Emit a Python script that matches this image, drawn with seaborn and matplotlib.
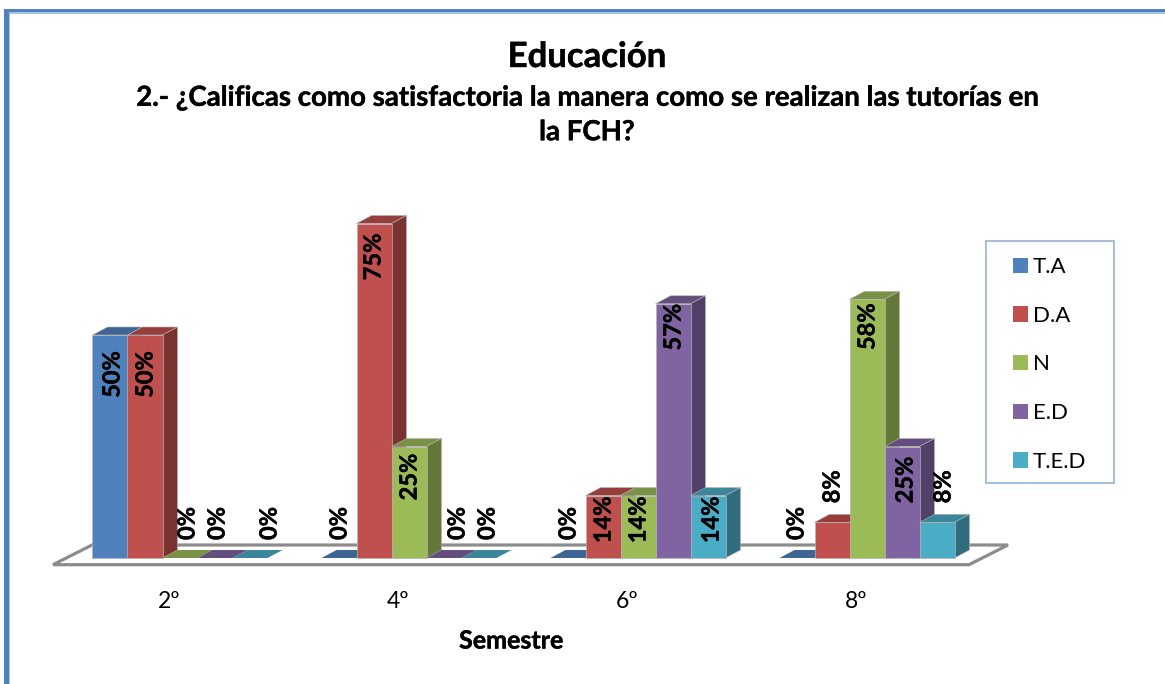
import numpy as np
import pandas as pd
import matplotlib
matplotlib.use("Agg")
import matplotlib.pyplot as plt
import matplotlib.patheffects as pe
from matplotlib.colors import to_rgb
from matplotlib.patches import Polygon, Rectangle
from matplotlib.transforms import ScaledTranslation
import seaborn as sns

semestres = ["2º", "4º", "6º", "8º"]
respuestas = ["T.A", "D.A", "N", "E.D", "T.E.D"]
ta = [50, 0, 0, 0]
da = [50, 75, 14, 8]
n = [0, 25, 14, 58]
ed = [0, 0, 57, 25]
ted = [0, 0, 14, 8]
colores = ["#4F81BD", "#C0504D", "#9BBB59", "#8064A2", "#4BACC6"]

# hand placement of the data labels, in pixels (one row per series, one column per semester)
nudge_x = [[2, 0, 0, -1], [0, -1, 0, 0], [7, 0, 0, 0], [2, 13, 0, 3], [19, 8, 3, 6]]
nudge_y = [[16, 0, 0, 0], [16, 10, 1, 0], [0, 7, 1, 4], [0, 0, 0, 10], [0, 0, 1, 0]]

W, H = 1165, 684
sns.set_theme(style="white")
plt.rcParams["font.family"] = ["Lato", "DejaVu Sans"]
heavy = [pe.withStroke(linewidth=0.3, foreground="black")]

df = pd.DataFrame({"semestre": np.tile(semestres, len(respuestas)),
                   "respuesta": np.repeat(respuestas, len(semestres)),
                   "valor": ta + da + n + ed + ted})

fig = plt.figure(figsize=(W / 100, H / 100), dpi=100, facecolor="white")
def fx(x): return x / W
def fy(y): return 1 - y / H
X0, X1, Y0, Y1 = 53, 1008, 558, 112
GROUP, C0, BAR = 229, 180, 35
ax = fig.add_axes([fx(X0), fy(Y0), (X1 - X0) / W, (Y0 - Y1) / H], facecolor="none")

sns.barplot(data=df, x="semestre", y="valor", hue="respuesta", order=semestres,
            hue_order=respuestas, palette=colores, saturation=1, width=BAR * 5 / GROUP,
            edgecolor="#b5b5b5", linewidth=0.5, ax=ax, errorbar=None)
ax.set_xlim((X0 - C0) / GROUP, (X1 - C0) / GROUP)
ax.set_ylim(0, 100)
sns.despine(ax=ax, left=True, bottom=True)
ax.set_yticks([])
ax.set_ylabel("")

# chart frame
for (x, y, w, h, c) in [(4, 9, W, 3.5, "#4F81BD"), (4, 9, 5, H, "#4F81BD"),
                        (9, 12.5, 1, H, "#A9C2E0"), (9, 12.5, W, 1, "#A9C2E0")]:
    fig.add_artist(Rectangle((fx(x), fy(y + h)), w / W, h / H, transform=fig.transFigure,
                             fc=c, ec="none", zorder=0))

# floor
floor = Polygon([(fx(53), fy(564.7)), (fx(969), fy(564.7)), (fx(1008), fy(545)), (fx(92), fy(545))],
                closed=True, transform=fig.transFigure, fc="white", ec="#8c8c8c", lw=2.3,
                joinstyle="miter", zorder=1)
ax.add_patch(floor)
floor.set_clip_on(False)

# extruded faces taken from the bars seaborn drew
ddx, ddy = 15 / GROUP, 8 / ((Y0 - Y1) / 100)
def shade(c, f): return tuple(v * f for v in to_rgb(c))
z = 2.0
for g in range(len(semestres)):
    for s, cont in enumerate(ax.containers):
        b = cont.patches[g]
        x, w, h = b.get_x(), b.get_width(), b.get_height()
        top = [(x, h), (x + w, h), (x + w + ddx, h + ddy), (x + ddx, h + ddy)]
        side = [(x + w, 0), (x + w + ddx, ddy), (x + w + ddx, h + ddy), (x + w, h)]
        for pts, f in ((top, 0.78), (side, 0.64)):
            ax.add_patch(Polygon(pts, closed=True, fc=shade(colores[s], f), ec="#b5b5b5" if h else "none",
                                 lw=0.4, zorder=z, clip_on=False))
        b.set_zorder(z + 0.1)
        b.set_clip_on(False)
        if h == 0:
            b.set_visible(False)
        z += 0.2

# data labels
for s, cont in enumerate(ax.containers):
    for g, b in enumerate(cont.patches):
        v = b.get_height()
        cx = b.get_x() + b.get_width() / 2
        if v == 0:
            ypos, va, dy = 0, "bottom", 18
        elif v < 10:
            ypos, va, dy = v, "bottom", 19
        else:
            ypos, va, dy = v, "top", -nudge_y[s][g]
        off = ScaledTranslation(nudge_x[s][g] / 100, dy / 100, fig.dpi_scale_trans)
        ax.text(cx, ypos, f"{int(v)}%", rotation=90, ha="center", va=va, fontsize=17, fontweight="bold",
                color="black", transform=ax.transData + off, zorder=50, clip_on=False, path_effects=heavy)

# axis text
ax.set_xticks(range(len(semestres)), semestres)
ax.tick_params(axis="x", length=0, pad=24, labelsize=16.5, labelcolor="black")
for t in ax.get_xticklabels():
    t.set_transform(t.get_transform() + ScaledTranslation(-11 / 100, 0, fig.dpi_scale_trans))
ax.set_xlabel("Semestre", fontsize=18, fontweight="bold", color="black", path_effects=heavy)
ax.xaxis.set_label_coords((511 - X0) / (X1 - X0), -(641 - Y0) / (Y0 - Y1))
ax.xaxis.label.set_verticalalignment("center")

# legend
lbox = Rectangle((fx(986), fy(483)), 128 / W, 242 / H, transform=fig.transFigure,
                 fc="white", ec="#95B3D7", lw=1.2, zorder=40, clip_on=False)
ax.add_patch(lbox)
sns.move_legend(ax, "upper left", bbox_to_anchor=(fx(1013), fy(257)), bbox_transform=fig.transFigure,
                frameon=False, title=None, fontsize=16, borderaxespad=0, borderpad=0,
                handlelength=0.68, handleheight=0.68, handletextpad=0.2, labelspacing=1.29)
leg = ax.get_legend()
leg.set_zorder(60)
for h in leg.get_patches():
    h.set_edgecolor("none")
for t in leg.get_texts():
    t.set_color("black")

# titles
fig.text(fx(587), fy(57), "Educación", ha="center", va="center", fontsize=25, fontweight="bold",
         color="black", path_effects=heavy)
fig.text(fx(587), fy(115), "2.- ¿Calificas como satisfactoria la manera como se realizan las tutorías en\nla FCH?",
         ha="center", va="center", fontsize=19.9, fontweight="bold", color="black", linespacing=1.40,
         path_effects=heavy)

fig.savefig("out.png", dpi=100, facecolor="white")
